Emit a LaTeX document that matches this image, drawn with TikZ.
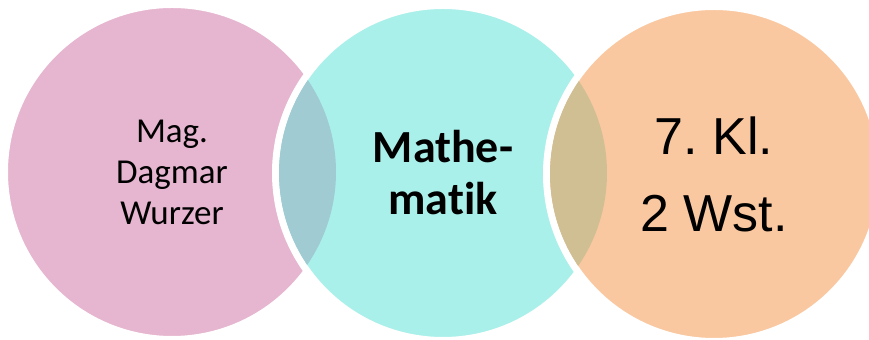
\documentclass[tikz,border=0pt]{standalone}
\usepackage{fontspec}
\setmainfont[Ligatures={NoCommon}]{Carlito}
\newfontfamily\arialfont{Liberation Sans}
\usetikzlibrary{positioning}
\definecolor{rosa}{HTML}{E6B5D0}
\definecolor{tuerkis}{HTML}{AAF0EA}
\definecolor{apricot}{HTML}{FAC8A0}
\definecolor{blaugrau}{HTML}{A0CBD3}
\definecolor{khaki}{HTML}{D1BF94}
\frenchspacing

\begin{document}
\begin{tikzpicture}[
    x=0.5pt, y=-0.5pt,
    kreis/.style={circle, draw=white, line width=3.5pt, minimum size=167.5pt, inner sep=0pt, align=center},
    lehrerstil/.style={font=\fontsize{17.5}{20.5}\selectfont, align=center},
    fachstil/.style={font=\fontsize{23}{26}\selectfont\bfseries, align=center},
    klassestil/.style={font=\arialfont\fontsize{26}{38.5}\selectfont, align=center}
]
\useasboundingbox (0,0) rectangle (869,340);

% Circles
\node[kreis, fill=rosa] (lehrer) at (172,172) {};
\node[kreis, fill=tuerkis] (fach) at (443,173) {};
\begin{scope}
  \clip (lehrer.center) circle[radius=82pt];
  \fill[blaugrau] (fach.center) circle[radius=82pt];
\end{scope}
\node[kreis, fill=apricot] (klasse) at (714,174) {};
\begin{scope}
  \clip (fach.center) circle[radius=82pt];
  \fill[khaki] (klasse.center) circle[radius=82pt];
\end{scope}

% Labels
\node[lehrerstil] (lehrertext) at (lehrer.center) {Mag.\\Dagmar\\Wurzer};
\node[fachstil] (fachtext) at (fach.center) {Mathe-\\matik};
\node[klassestil] (klassetext) at (klasse.center) {7. Kl.\\2 Wst.};

\end{tikzpicture}
\end{document}
